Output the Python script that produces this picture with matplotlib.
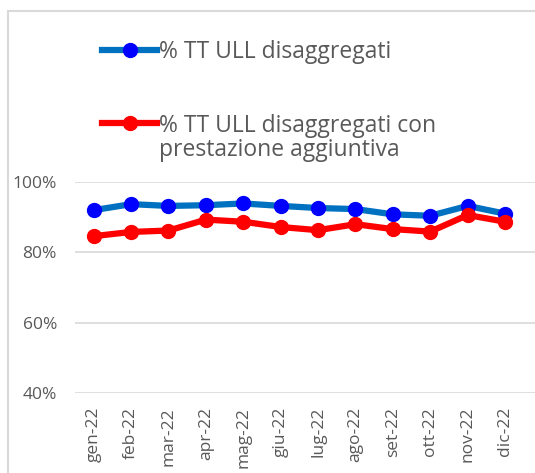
import matplotlib.pyplot as plt
from matplotlib.patches import Rectangle
from matplotlib.ticker import PercentFormatter

plt.rcParams['font.family'] = ['Open Sans', 'DejaVu Sans']

months = ['gen-22', 'feb-22', 'mar-22', 'apr-22', 'mag-22', 'giu-22',
          'lug-22', 'ago-22', 'set-22', 'ott-22', 'nov-22', 'dic-22']
ull_disagg = [92.0, 93.7, 93.2, 93.4, 93.9, 93.2, 92.6, 92.3, 90.8, 90.4, 93.2, 91.0]
ull_disagg_prest = [84.6, 85.8, 86.2, 89.3, 88.7, 87.2, 86.3, 88.0, 86.6, 85.9, 90.6, 88.7]
yticks = [40, 60, 80, 100]

grey = '#595959'
fig = plt.figure(figsize=(5.35, 4.73), dpi=100)

# light chart border
fig.patches.append(Rectangle((8 / 535, -0.1), 1.2, 1 - 11 / 473 + 0.1,
                             transform=fig.transFigure, fill=False,
                             edgecolor='#D9D9D9', linewidth=1.5))

ax = fig.add_axes([75 / 535, 1 - 393 / 473, 460 / 535, (393 - 182) / 473])
x = list(range(len(months)))
l1, = ax.plot(x, ull_disagg, color='#0070C0', linewidth=4.5, marker='o',
              markersize=10, markerfacecolor='#0000FF', markeredgecolor='#0000FF',
              zorder=3)
l2, = ax.plot(x, ull_disagg_prest, color='#FF0000', linewidth=4.5, marker='o',
              markersize=10, markerfacecolor='#FF0000', markeredgecolor='#FF0000',
              zorder=3)

ax.set_ylim(40, 100)
ax.set_xlim(-0.5, 11.8)
ax.set_yticks(yticks)
ax.yaxis.set_major_formatter(PercentFormatter(decimals=0))
ax.set_xticks(x)
ax.set_xticklabels(months, rotation=90)
ax.grid(axis='y', color='#D9D9D9', linewidth=1.2)
ax.set_axisbelow(True)
for s in ax.spines.values():
    s.set_visible(False)
ax.tick_params(axis='both', length=0, labelsize=12.5, colors=grey)
ax.tick_params(axis='y', pad=13)
ax.tick_params(axis='x', pad=10)

# legend: second entry wraps onto a second line under its text
fig.legend(handles=[l1, l2],
           labels=['% TT ULL disaggregati', '% TT ULL disaggregati con'],
           loc='upper left', bbox_to_anchor=(102 / 535, 1 - 40 / 473),
           frameon=False, fontsize=16.5, labelcolor=grey, handlelength=2.4,
           handletextpad=0.1, labelspacing=2.16, borderaxespad=0, borderpad=0)
fig.text(159 / 535, 1 - 150 / 473, 'prestazione aggiuntiva', fontsize=16.5,
         color=grey, va='center', ha='left')

fig.savefig('out.png', dpi=100)
